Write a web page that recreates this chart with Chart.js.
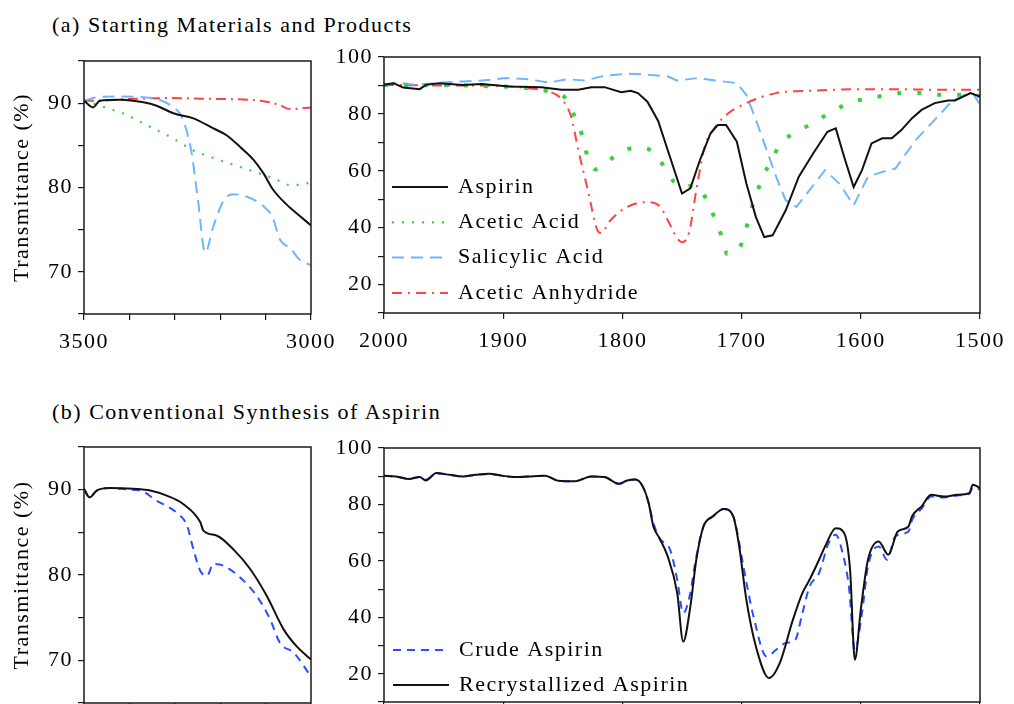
<!DOCTYPE html>
<html>
<head>
<meta charset="utf-8">
<script src="https://cdn.jsdelivr.net/npm/chart.js@4"></script>
<style>
  html, body { margin: 0; padding: 0; background: #fff; overflow: hidden; width: 1014px; height: 704px; }
  canvas { position: absolute; }
  .caption { position: absolute; left: 52px; font: 22px "Liberation Serif", "Times New Roman", serif;
             letter-spacing: 1.5px; color: #000; line-height: 24px; white-space: nowrap; }
</style>
</head>
<body>
<div class="caption" style="top:13px">(a) Starting Materials and Products</div>
<div class="caption" style="top:400px">(b) Conventional Synthesis of Aspirin</div>
<canvas id="tl" width="345" height="360" style="left:0;top:0"></canvas>
<canvas id="tr" width="694" height="360" style="left:320px;top:0"></canvas>
<canvas id="bl" width="345" height="369" style="left:0;top:380px"></canvas>
<canvas id="br" width="694" height="369" style="left:320px;top:380px"></canvas>
<script>
// tick labels
var ohXLabels = [3500, 3000];
var ohYLabels = [70, 80, 90];
var coXLabels = [2000, 1900, 1800, 1700, 1600, 1500];
var coYLabels = [20, 40, 60, 80, 100];

// (a) 3500-3000 cm-1, [wavenumber, %T]
var ohAspirin = [[3500,90.3],[3480,89.5],[3465,90.3],[3420,90.4],[3369,90.1],[3340,89.7],[3303,88.8],[3259,88.2],
  [3215,87.0],[3186,86.2],[3156,84.8],[3127,83.3],[3105,81.7],[3083,79.7],[3054,78.0],[3024,76.6],[3000,75.5]];
var ohAcetic = [[3500,90.3],[3465,89.7],[3406,88.6],[3355,87.2],[3303,85.8],[3259,84.4],[3215,83.5],[3171,82.7],
  [3127,81.9],[3083,81.1],[3046,80.3],[3020,80.3],[3000,80.7]];
var ohSalicylic = [[3500,90.3],[3472,90.7],[3420,90.8],[3369,90.7],[3340,90.5],[3303,89.5],[3285,88.4],[3264,84.4],
  [3249,78.5],[3233,72.3],[3215,75.4],[3192,78.5],[3171,79.2],[3141,78.9],[3105,77.8],[3085,76.5],[3068,73.8],
  [3046,72.8],[3024,71.4],[3000,70.8]];
var ohAnhydride = [[3500,90.3],[3465,90.3],[3400,90.5],[3317,90.6],[3209,90.5],[3112,90.3],[3070,89.8],[3046,89.3],[3000,89.5]];

// (a) 2000-1500 cm-1
var coAspirin = [[2000,90.2],[1992,90.8],[1984,89.3],[1970,88.7],[1965,90.2],[1954,90.8],[1934,90.2],[1918,90.5],
  [1895,89.6],[1868,89.4],[1851,88.5],[1837,88.5],[1826,89.4],[1815,89.4],[1801,87.6],[1793,88.1],[1787,87.3],
  [1779,84.3],[1770,77.5],[1762,67.3],[1750,52.0],[1743,53.8],[1735,63.7],[1726,73.2],[1720,76.1],[1713,76.1],
  [1704,70.2],[1696,55.5],[1688,43.7],[1681,36.7],[1674,37.3],[1663,46.1],[1652,57.9],[1640,66.1],[1628,73.7],
  [1621,74.9],[1614,64.9],[1606,54.3],[1599,60.2],[1591,69.6],[1582,71.4],[1574,71.4],[1566,74.3],[1557,78.5],
  [1549,81.4],[1538,83.8],[1527,84.7],[1521,84.7],[1508,87.3],[1500,86.1]];
var coAcetic = [[2000,90.2],[1980,90.0],[1950,90.2],[1920,89.8],[1900,89.6],[1879,89.0],[1862,87.9],[1847,85.2],
  [1840,79.0],[1834,72.8],[1830,66.1],[1823,60.5],[1812,63.5],[1798,67.3],[1783,68.2],[1770,64.7],[1762,59.1],
  [1751,54.3],[1739,54.9],[1729,49.6],[1723,43.7],[1717,37.3],[1712,30.8],[1703,32.0],[1697,38.4],[1693,44.9],
  [1682,57.9],[1675,63.7],[1667,69.6],[1654,73.7],[1640,76.7],[1627,80.2],[1613,83.2],[1598,85.2],[1582,86.3],
  [1566,87.3],[1549,87.3],[1534,86.7],[1516,86.7],[1500,86.3]];
var coSalicylic = [[2000,90.2],[1990,91.0],[1973,90.2],[1954,91.0],[1934,91.4],[1918,91.7],[1898,92.6],[1879,92.2],
  [1862,91.0],[1846,92.2],[1832,91.7],[1815,93.4],[1796,94.1],[1779,93.8],[1762,93.2],[1754,91.7],[1737,92.6],
  [1721,91.7],[1704,90.8],[1696,86.7],[1688,77.9],[1679,67.3],[1671,57.9],[1663,49.6],[1654,47.3],[1643,53.2],
  [1630,60.2],[1618,55.5],[1606,47.9],[1594,57.9],[1582,59.6],[1571,60.8],[1554,70.8],[1538,77.9],[1524,84.3],
  [1513,86.7],[1506,87.3],[1500,83.2]];
var coAnhydride = [[2000,90.2],[1960,90.0],[1906,89.9],[1879,89.0],[1862,87.9],[1851,85.2],[1843,79.0],[1837,67.3],
  [1829,53.2],[1821,39.1],[1818,38.1],[1810,42.6],[1796,47.3],[1779,49.0],[1768,47.3],[1762,42.6],[1750,34.9],
  [1744,38.4],[1738,53.2],[1731,68.4],[1724,74.3],[1713,79.6],[1696,83.8],[1671,87.3],[1638,88.2],[1604,88.7],
  [1571,88.7],[1535,88.5],[1500,88.5]];

// (b) 3500-3000 cm-1
var ohCrude = [[3500,90.1],[3488,89.1],[3472,89.9],[3443,90.2],[3400,90.0],[3376,89.9],[3340,88.7],[3296,87.3],
  [3273,85.8],[3259,83.0],[3244,80.5],[3229,79.9],[3215,81.3],[3193,81.1],[3156,79.7],[3119,77.5],[3090,74.8],
  [3068,72.0],[3038,70.9],[3000,68.1]];
var ohRecryst = [[3500,90.1],[3488,89.1],[3472,89.9],[3443,90.2],[3391,90.1],[3354,89.9],[3318,89.3],[3281,88.3],
  [3244,86.2],[3237,85.2],[3207,84.6],[3171,83.0],[3134,80.7],[3097,77.5],[3060,73.6],[3031,71.6],[3000,70.1]];

// (b) 2000-1500 cm-1
var coCrude = [[2000,90.2],[1990,89.9],[1979,89.2],[1970,89.7],[1965,88.8],[1956,91.0],[1945,90.5],[1934,89.9],
  [1923,90.5],[1912,90.7],[1901,90.2],[1890,89.7],[1879,89.9],[1865,90.2],[1854,88.4],[1840,88.2],[1826,89.9],
  [1815,89.7],[1803,87.3],[1796,88.5],[1789,88.8],[1783,86.4],[1778,80.5],[1774,73.5],[1769,68.1],[1760,64.0],
  [1754,53.3],[1749,41.5],[1743,48.6],[1739,59.2],[1732,72.2],[1724,75.8],[1715,78.4],[1707,75.8],[1704,71.0],
  [1699,59.2],[1690,40.3],[1679,26.1],[1671,28.5],[1663,30.9],[1655,32.0],[1649,41.5],[1643,50.9],[1635,55.7],
  [1627,66.3],[1621,69.3],[1616,64.0],[1610,50.9],[1605,28.5],[1599,41.5],[1594,58.0],[1585,65.1],[1578,60.4],
  [1571,68.7],[1560,70.4],[1557,74.5],[1549,78.5],[1541,82.8],[1530,82.5],[1519,83.2],[1509,83.8],[1506,86.0],[1500,85.3]];
var coRecryst = [[2000,90.2],[1990,89.9],[1979,89.0],[1970,89.7],[1965,88.5],[1956,91.1],[1945,90.5],[1934,89.9],
  [1923,90.5],[1912,90.9],[1901,90.2],[1890,89.7],[1879,89.9],[1865,90.2],[1854,88.4],[1840,88.2],[1826,89.9],
  [1815,89.7],[1803,87.3],[1796,88.5],[1789,88.8],[1783,86.4],[1778,80.5],[1774,72.2],[1769,68.1],[1762,61.6],
  [1754,48.6],[1749,31.4],[1743,43.8],[1738,60.4],[1732,72.2],[1724,75.8],[1715,78.4],[1707,75.8],[1702,65.1],
  [1696,46.2],[1688,29.7],[1677,18.5],[1668,23.8],[1657,39.1],[1649,48.6],[1643,53.3],[1635,60.4],[1630,65.1],
  [1621,71.6],[1614,69.9],[1609,56.9],[1605,25.0],[1600,42.7],[1594,60.4],[1585,66.9],[1577,62.2],[1569,70.4],
  [1560,72.2],[1557,75.8],[1549,79.3],[1541,83.4],[1530,82.8],[1519,83.4],[1509,84.0],[1506,87.0],[1500,85.8]];

var FONT = '"Liberation Serif", "Times New Roman", serif';
var LS = '1.5px';

function pts(a) { return a.map(function (p) { return { x: p[0], y: p[1] }; }); }

// canvas text is drawn a bit wider, like the original figure
var spacing = {
  id: 'spacing',
  beforeLayout: function (chart) { chart.ctx.letterSpacing = LS; },
  beforeDraw: function (chart) { chart.ctx.letterSpacing = LS; }
};

var frame = {
  id: 'frame',
  afterDatasetsDraw: function (chart) {
    var ctx = chart.ctx, a = chart.chartArea;
    ctx.save();
    ctx.strokeStyle = '#1a1a1a';
    ctx.lineWidth = 1.5;
    ctx.strokeRect(a.left, a.top, a.right - a.left, a.bottom - a.top);
    ctx.restore();
  }
};

var insideLegend = {
  id: 'insideLegend',
  afterDraw: function (chart, args, opts) {
    if (!opts || !opts.display) return;
    var ctx = chart.ctx, a = chart.chartArea;
    ctx.save();
    ctx.letterSpacing = LS;
    ctx.font = '22px ' + FONT;
    ctx.textBaseline = 'middle';
    chart.data.datasets.forEach(function (ds, i) {
      var y = a.top + opts.top + i * opts.rowGap;
      var x0 = a.left + opts.left;
      ctx.beginPath();
      ctx.strokeStyle = ds.borderColor;
      ctx.lineWidth = ds.legendWidth || ds.borderWidth;
      ctx.setLineDash(ds.legendDash || ds.borderDash || []);
      ctx.moveTo(x0, y);
      ctx.lineTo(x0 + opts.lineLength, y);
      ctx.stroke();
      ctx.setLineDash([]);
      ctx.fillStyle = '#000';
      ctx.fillText(ds.label, x0 + opts.lineLength + opts.textGap, y);
    });
    ctx.restore();
  }
};

function line(label, data, color, width, dash, smooth, extra) {
  var ds = {
    label: label, data: pts(data), borderColor: color, borderWidth: width,
    borderDash: dash, pointRadius: 0, fill: false,
    tension: smooth ? 0.4 : 0, cubicInterpolationMode: smooth ? 'monotone' : 'default'
  };
  return Object.assign(ds, extra || {});
}

function makeChart(id, cfg) {
  var tickFont = { family: FONT, size: 22 };
  return new Chart(document.getElementById(id), {
    type: 'line',
    data: { datasets: cfg.datasets },
    plugins: [spacing, frame, insideLegend],
    options: {
      responsive: false,
      animation: false,
      events: [],
      layout: { padding: cfg.padding },
      plugins: {
        legend: { display: false },
        tooltip: { enabled: false },
        insideLegend: cfg.legend || { display: false }
      },
      scales: {
        x: {
          type: 'linear', reverse: true, min: cfg.xMin, max: cfg.xMax,
          afterFit: function (s) { s.height = cfg.xHeight; },
          border: { display: false },
          grid: { drawOnChartArea: false, drawTicks: true, tickLength: 6, color: '#1a1a1a', lineWidth: 1.2 },
          ticks: {
            stepSize: 100, autoSkip: false, maxRotation: 0, padding: 9, color: '#000', font: tickFont,
            callback: function (v) { return cfg.xLabels.indexOf(v) >= 0 ? String(v) : ''; }
          }
        },
        y: {
          min: cfg.yMin, max: cfg.yMax,
          afterFit: function (s) { s.width = cfg.yWidth; },
          border: { display: false },
          grid: { drawOnChartArea: false, drawTicks: true, tickLength: 6, color: '#1a1a1a', lineWidth: 1.2 },
          ticks: {
            stepSize: cfg.yStep, autoSkip: false, padding: 5, color: '#000', font: tickFont,
            callback: function (v) { return cfg.yLabels.indexOf(v) >= 0 ? String(v) : ''; }
          },
          title: {
            display: !!cfg.yTitle, text: cfg.yTitle || '', color: '#000',
            font: { family: FONT, size: 22 }, padding: { top: 9, bottom: 0 }
          }
        }
      }
    }
  });
}

var BLACK = '#111111', GREEN = '#3ccf3c', LBLUE = '#6fb6ff', RED = '#ff4242', BLUE = '#2b4cff';

makeChart('tl', {
  padding: { top: 61, right: 34, bottom: 0, left: 0 }, xHeight: 46, yWidth: 84,
  xMin: 3000, xMax: 3500, xLabels: ohXLabels,
  yMin: 65, yMax: 95, yStep: 5, yLabels: ohYLabels, yTitle: 'Transmittance (%)',
  datasets: [
    line('Aspirin', ohAspirin, BLACK, 2, [], true),
    line('Acetic Acid', ohAcetic, GREEN, 2.2, [2, 8], true),
    line('Salicylic Acid', ohSalicylic, LBLUE, 2, [12, 7], true),
    line('Acetic Anhydride', ohAnhydride, RED, 2, [10, 5, 2, 5], true)
  ]
});

makeChart('tr', {
  padding: { top: 57, right: 28, bottom: 0, left: 0 }, xHeight: 47, yWidth: 64,
  xMin: 1500, xMax: 2000, xLabels: coXLabels,
  yMin: 10, yMax: 100, yStep: 10, yLabels: coYLabels,
  legend: { display: true, left: 8, top: 130, rowGap: 35.3, lineLength: 56, textGap: 10 },
  datasets: [
    line('Aspirin', coAspirin, BLACK, 2, [], false),
    line('Acetic Acid', coAcetic, GREEN, 4, [4, 16], true, { legendWidth: 2.2, legendDash: [2, 8] }),
    line('Salicylic Acid', coSalicylic, LBLUE, 2, [12, 7], false),
    line('Acetic Anhydride', coAnhydride, RED, 2, [10, 6, 2, 6], true)
  ]
});

makeChart('bl', {
  padding: { top: 67, right: 34, bottom: 0, left: 0 }, xHeight: 46, yWidth: 84,
  xMin: 3000, xMax: 3500, xLabels: ohXLabels,
  yMin: 65, yMax: 95, yStep: 5, yLabels: ohYLabels, yTitle: 'Transmittance (%)',
  datasets: [
    line('Crude Aspirin', ohCrude, BLUE, 2, [8, 6], true, { order: 1 }),
    line('Recrystallized Aspirin', ohRecryst, BLACK, 2, [], true, { order: 0 })
  ]
});

makeChart('br', {
  padding: { top: 68, right: 28, bottom: 0, left: 0 }, xHeight: 47, yWidth: 64,
  xMin: 1500, xMax: 2000, xLabels: coXLabels,
  yMin: 10, yMax: 100, yStep: 10, yLabels: coYLabels,
  legend: { display: true, left: 9, top: 202, rowGap: 35, lineLength: 56, textGap: 10 },
  datasets: [
    line('Crude Aspirin', coCrude, BLUE, 2, [8, 6], true, { order: 1 }),
    line('Recrystallized Aspirin', coRecryst, BLACK, 2, [], true, { order: 0 })
  ]
});
</script>
</body>
</html>
